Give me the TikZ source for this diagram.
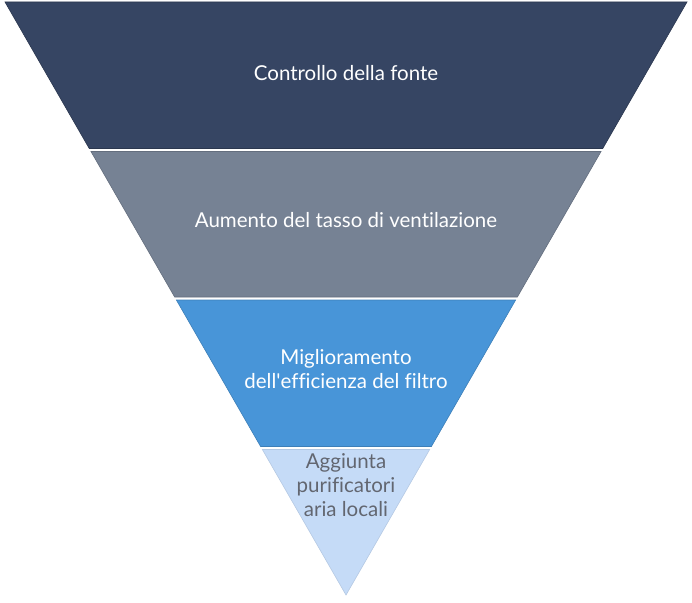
\documentclass[tikz,border=0pt]{standalone}
\usepackage{fontspec}
\setmainfont{Lato}[Ligatures=NoCommon]
\definecolor{bandA}{HTML}{364563}
\definecolor{bandB}{HTML}{768294}
\definecolor{bandC}{HTML}{4895D8}
\definecolor{bandD}{HTML}{C5DBF7}
\definecolor{txtD}{HTML}{626670}
\tikzset{
  lbl/.style={align=center, font=\fontsize{20.5}{24}\selectfont, text=white, inner sep=0pt},
}
\begin{document}
\begin{tikzpicture}[x=1pt,y=-1pt]
\useasboundingbox (0,0) rectangle (692,602);
\pgfmathsetmacro{\s}{341/593}
\fill[bandA,draw=bandA!80!black,line width=0.6pt] ({346-341},2) -- ({346+341},2) -- ({346+\s*(595-148.5)},148.5) -- ({346-\s*(595-148.5)},148.5) -- cycle;
\fill[bandB,draw=bandB!85!black,line width=0.6pt] ({346-\s*(595-151.5)},151.5) -- ({346+\s*(595-151.5)},151.5) -- ({346+\s*(595-297)},297) -- ({346-\s*(595-297)},297) -- cycle;
\fill[bandC,draw=bandC!85!black,line width=0.6pt] ({346-\s*(595-300)},300) -- ({346+\s*(595-300)},300) -- ({346+\s*(595-446.5)},446.5) -- ({346-\s*(595-446.5)},446.5) -- cycle;
\fill[bandD,draw=bandD!92!black,line width=0.6pt] ({346-\s*(595-449.5)},449.5) -- ({346+\s*(595-449.5)},449.5) -- (346,595) -- cycle;
\node[lbl] (t1) at (346,73) {Controllo della fonte};
\node[lbl] (t2) at (346,220) {Aumento del tasso di ventilazione};
\node[lbl] (t3) at (346,369) {Miglioramento\\dell\textquotesingle efficienza del filtro};
\node[lbl, text=txtD] (t4) at (346,485) {Aggiunta\\purificatori\\aria locali};
\end{tikzpicture}
\end{document}
